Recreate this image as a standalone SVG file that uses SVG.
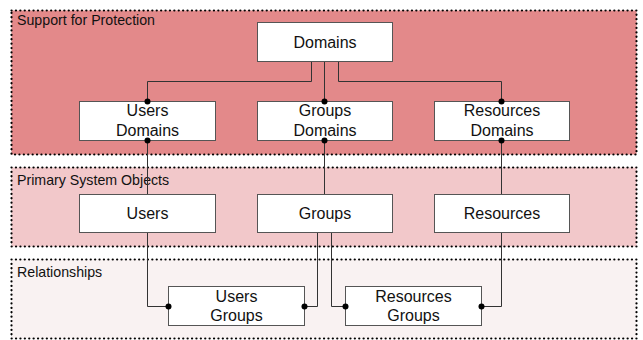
<svg xmlns="http://www.w3.org/2000/svg" width="643" height="340" viewBox="0 0 643 340">
  <style>
    .panel { stroke: #000; stroke-width: 2.2; stroke-dasharray: 0.1 4.3; stroke-linecap: round; }
    .ptitle { font-family: "Liberation Sans", Arial, sans-serif; font-size: 14.2px; fill: #111; }
    .box { fill: #fff; stroke: #555; stroke-width: 1; }
    .lbl { font-family: "Liberation Sans", Arial, sans-serif; font-size: 16px; fill: #111; text-anchor: middle; }
    .wire { fill: none; stroke: #333; stroke-width: 1; }
    .dot { fill: #000; }
  </style>
  <rect width="643" height="340" fill="#fff"/>

  <!-- layers -->
  <g id="layer-protection">
    <rect class="panel" x="11.5" y="10.5" width="625" height="144" fill="#e3898a"/>
    <text class="ptitle" x="17" y="25">Support for Protection</text>
  </g>
  <g id="layer-objects">
    <rect class="panel" x="11.5" y="167.5" width="625" height="79" fill="#f2c8ca"/>
    <text class="ptitle" x="17" y="185">Primary System Objects</text>
  </g>
  <g id="layer-relationships">
    <rect class="panel" x="11.5" y="259.5" width="625" height="79" fill="#f9f2f2"/>
    <text class="ptitle" x="17" y="277">Relationships</text>
  </g>

  <!-- nodes -->
  <g id="domains">
    <rect class="box" x="257.5" y="22.5" width="135" height="39"/>
    <text class="lbl" x="325" y="47.5">Domains</text>
  </g>
  <g id="users-domains">
    <rect class="box" x="79.5" y="101.5" width="136" height="39"/>
    <text class="lbl" x="147.5" y="116">Users</text>
    <text class="lbl" x="147.5" y="135.5">Domains</text>
  </g>
  <g id="groups-domains">
    <rect class="box" x="257.5" y="101.5" width="135" height="39"/>
    <text class="lbl" x="325" y="116">Groups</text>
    <text class="lbl" x="325" y="135.5">Domains</text>
  </g>
  <g id="resources-domains">
    <rect class="box" x="434.5" y="101.5" width="135" height="39"/>
    <text class="lbl" x="502" y="116">Resources</text>
    <text class="lbl" x="502" y="135.5">Domains</text>
  </g>
  <g id="users">
    <rect class="box" x="79.5" y="194.5" width="136" height="38"/>
    <text class="lbl" x="147.5" y="219">Users</text>
  </g>
  <g id="groups">
    <rect class="box" x="257.5" y="194.5" width="135" height="38"/>
    <text class="lbl" x="325" y="219">Groups</text>
  </g>
  <g id="resources">
    <rect class="box" x="434.5" y="194.5" width="135" height="38"/>
    <text class="lbl" x="502" y="219">Resources</text>
  </g>
  <g id="users-groups">
    <rect class="box" x="168.5" y="286.5" width="136" height="39"/>
    <text class="lbl" x="236.5" y="302">Users</text>
    <text class="lbl" x="236.5" y="321">Groups</text>
  </g>
  <g id="resources-groups">
    <rect class="box" x="345.5" y="286.5" width="136" height="39"/>
    <text class="lbl" x="413.5" y="302">Resources</text>
    <text class="lbl" x="413.5" y="321">Groups</text>
  </g>

  <!-- connectors, drawn over the node outlines so the end dots show -->
  <g id="connectors">
    <path class="wire" d="M311.5 62 V81.5 H147.5 V101"/>
    <path class="wire" d="M324.5 62 V101"/>
    <path class="wire" d="M338.5 62 V81.5 H501.5 V101"/>
    <path class="wire" d="M147.5 141 V194"/>
    <path class="wire" d="M324.5 141 V194"/>
    <path class="wire" d="M501.5 141 V194"/>
    <path class="wire" d="M147.5 233 V306.5 H168"/>
    <path class="wire" d="M317.5 233 V306.5 H305"/>
    <path class="wire" d="M331.5 233 V306.5 H345"/>
    <path class="wire" d="M501.5 233 V306.5 H482"/>
    <circle class="dot" cx="147.5" cy="101.5" r="3"/>
    <circle class="dot" cx="324.5" cy="101.5" r="3"/>
    <circle class="dot" cx="501.5" cy="101.5" r="3"/>
    <circle class="dot" cx="147.5" cy="140.5" r="3"/>
    <circle class="dot" cx="324.5" cy="140.5" r="3"/>
    <circle class="dot" cx="501.5" cy="140.5" r="3"/>
    <circle class="dot" cx="168.5" cy="306.5" r="3"/>
    <circle class="dot" cx="304.5" cy="306.5" r="3"/>
    <circle class="dot" cx="345.5" cy="306.5" r="3"/>
    <circle class="dot" cx="481.5" cy="306.5" r="3"/>
  </g>
</svg>
